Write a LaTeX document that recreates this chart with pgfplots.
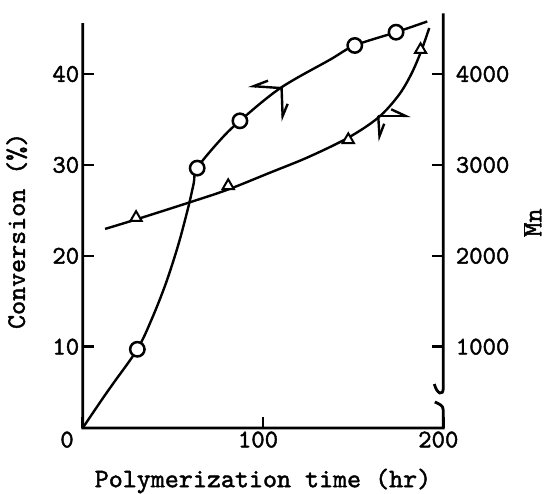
\documentclass[border=0pt]{standalone}
\usepackage{fontspec}
\newfontfamily\ctt{lmmono10-regular}[Extension=.otf, FakeBold=1.6]
\usepackage{pgfplots}
\pgfplotsset{compat=1.18}
\usetikzlibrary{arrows.meta}
\begin{document}
\begin{tikzpicture}[x=1pt,y=1pt]
\useasboundingbox (-82.7,-66) rectangle (465.3,428);
\begin{axis}[
  scale only axis, width=360.6pt, height=414.7pt,
  xmin=0, xmax=200, ymin=1.06, ymax=46.68,
  clip=false,
  axis x line*=bottom, axis y line*=left,
  axis line style={draw=none},
  xtick={0,100,200}, xticklabels={\makebox[0pt][r]{0\kern4pt},100,200},
  ytick={10,20,30,40}, yticklabels={10,20,30,40},
  scaled ticks=false,
  tick align=inside, major tick length=11pt,
  every tick/.style={black, line width=2.5pt},
  tick label style={font=\fontsize{25.5}{26}\selectfont\ctt},
  xticklabel style={xshift=-5pt},
  xlabel={Polymerization time (hr)}, ylabel={Conversion (\%)},
  label style={font=\fontsize{26.7}{27}\selectfont\ctt},
  xlabel style={at={(axis description cs:0.5,0)}, anchor=center, yshift=-53pt},
  ylabel style={at={(axis description cs:0,0.4755)}, anchor=center, yshift=66pt},
]
% conversion curve
\addplot[black, line width=2.4pt, smooth, tension=0.55] coordinates {
 (0,1.06) (10.5,4.14) (17,5.98) (30.3,9.72) (38,12.9) (46,16.9) (53,21.2)
 (58.5,25.3) (61.5,27.9) (63.5,29.65) (76.1,32.7) (87.2,34.85) (109.6,38.45) (137.1,41.57)
 (150.9,43.14) (173.8,44.6) (191.1,45.78)};
\addplot[only marks, mark=*, mark size=7.2pt, mark options={draw=black, fill=white, line width=2.5pt}] coordinates {
 (30.3,9.72) (63.5,29.65) (87.2,34.85) (150.9,43.14) (173.8,44.6)};
% axis lines with break on the right axis
\draw[line width=2.8pt] (axis cs:0,45.6) -- (axis cs:0,1.06) -- (axis cs:200,1.06) -- (axis cs:200,3.0)
   .. controls (axis cs:200,3.6) and (axis cs:197.5,3.7) .. (axis cs:195.3,3.92);
\draw[line width=2.8pt] (axis cs:200,46.68) -- (axis cs:200,5.5)
   .. controls (axis cs:200,4.5) and (axis cs:196.5,4.8) .. (axis cs:195,5.9);
% arrows
\draw[line width=2.4pt, -{Straight Barb[harpoon,swap,length=14pt,width=13pt]}] (axis cs:110.3,38.45) -- (axis cs:91.8,38.7);
\draw[line width=2.4pt, -{Straight Barb[harpoon,length=12pt,width=11pt]}] (axis cs:110.3,38.45) -- (axis cs:111,34.77);
\draw[line width=2.4pt, -{Straight Barb[harpoon,length=14pt,width=13pt]}] (axis cs:163.9,35.4) -- (axis cs:181.9,35.4);
\draw[line width=2.4pt, -{Straight Barb[harpoon,length=12pt,width=11pt]}] (axis cs:163.9,35.4) -- (axis cs:164.8,32.57);
\end{axis}
\begin{axis}[
  scale only axis, width=360.6pt, height=414.7pt,
  xmin=0, xmax=200, ymin=106, ymax=4668,
  clip=false,
  hide x axis,
  axis y line*=right,
  axis line style={draw=none},
  ytick={1000,2000,3000,4000}, yticklabels={1000,2000,3000,4000},
  scaled ticks=false,
  tick align=inside, major tick length=11pt,
  every tick/.style={black, line width=2.5pt},
  tick label style={font=\fontsize{25.5}{26}\selectfont\ctt},
  yticklabel style={xshift=9pt},
  ylabel={$\overline{\mbox{M}}$n},
  label style={font=\fontsize{26.7}{27}\selectfont\ctt},
  ylabel style={at={(axis description cs:1,0.4955)}, anchor=center, yshift=-89pt},
]
\addplot[black, line width=2.4pt, smooth, tension=0.55] coordinates {
 (12.4,2296) (29.6,2400) (59.6,2590) (80.7,2730) (103.9,2915) (125,3085) (147.3,3300)
 (163.9,3520) (175,3760) (182,3990) (187.5,4240) (192.2,4506)};
\addplot[only marks, mark=triangle*, mark size=6.5pt, mark options={draw=black, fill=white, line width=2pt}] coordinates {
 (29.6,2420) (80.7,2770) (147.3,3276) (187.4,4267)};
\end{axis}
\end{tikzpicture}
\end{document}
